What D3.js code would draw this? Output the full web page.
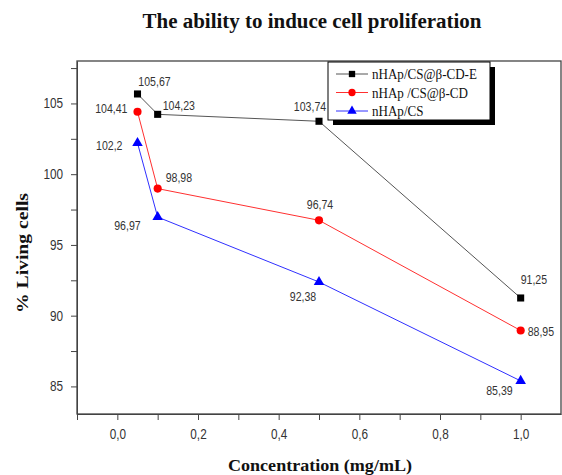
<!DOCTYPE html>
<html>
<head>
<meta charset="utf-8">
<script src="https://cdn.jsdelivr.net/npm/d3@7"></script>
<style>
  body { margin: 0; background: #fff; }
  .tick text { font-family: "Liberation Sans", Arial, sans-serif; font-size: 14px; fill: #333; }
  .tick line, .domain { stroke: #444; }
</style>
</head>
<body>
<div id="chart"></div>
<script>
// concentrations (mg/mL)
var concentrations = [0.05, 0.1, 0.5, 1.0];

// % living cells for each material
var seriesNames = ["nHAp/CS@\u03b2-CD-E", "nHAp /CS@\u03b2-CD", "nHAp/CS"];
var valuesCDE = [105.67, 104.23, 103.74, 91.25];
var valuesCD = [104.41, 98.98, 96.74, 88.95];
var valuesCS = [102.2, 96.97, 92.38, 85.39];

// axis ticks
var xTicks = [0, 0.2, 0.4, 0.6, 0.8, 1.0];
var xMinorTicks = [-0.1, 0.1, 0.3, 0.5, 0.7, 0.9];
var yTicks = [85, 90, 95, 100, 105];
var yMinorTicks = [87.5, 92.5, 97.5, 102.5, 107.5];

// where each value label sits relative to its marker [dx, dy, anchor]
var labelPosCDE = [[17, -8, "middle"], [5, -4, "start"], [-9, -10, "middle"], [0, -14, "start"]];
var labelPosCD = [[-10, 1, "end"], [8, -7, "start"], [1, -11, "middle"], [7, 5, "start"]];
var labelPosCS = [[-15, 7, "end"], [-17, 13, "end"], [-16, 19, "middle"], [-8, 14, "end"]];

var styles = [
  {line: "#555", fill: "#000", symbol: d3.symbolSquare, size: 50},
  {line: "#ff3030", fill: "#ff0000", symbol: d3.symbolCircle, size: 52},
  {line: "#3030ff", fill: "#0000ff", symbol: d3.symbolTriangle, size: 48}
];

var allValues = [valuesCDE, valuesCD, valuesCS];
var allLabelPos = [labelPosCDE, labelPosCD, labelPosCS];

// squeeze text horizontally (the original uses a narrow face)
function narrow(sel, k) {
  sel.each(function() {
    var w = this.getComputedTextLength();
    d3.select(this).attr("textLength", w * k).attr("lengthAdjust", "spacingAndGlyphs");
  });
}

// set the dimensions and margins of the graph
var margin = {top: 61, right: 1, bottom: 61, left: 77},
  width = 562 - margin.left - margin.right,
  height = 475 - margin.top - margin.bottom;

var svg = d3.select("#chart")
  .append("svg")
    .attr("width", 562)
    .attr("height", 475)
  .append("g")
    .attr("transform", "translate(" + margin.left + "," + margin.top + ")");

var x = d3.scaleLinear().domain([-0.1, 1.1]).range([0, width]);
var y = d3.scaleLinear().domain([83.05, 108]).range([height, 0]);

function comma(v) { return String(v).replace(".", ","); }

// minor ticks first (no labels)
svg.append("g")
  .attr("transform", "translate(0," + height + ")")
  .call(d3.axisBottom(x).tickValues(xMinorTicks).tickSize(6).tickFormat(""))
  .call(function(g) { g.select(".domain").remove(); });
svg.append("g")
  .call(d3.axisLeft(y).tickValues(yMinorTicks).tickSize(6).tickFormat(""))
  .call(function(g) { g.select(".domain").remove(); });

// main axes
var xAxis = svg.append("g")
  .attr("transform", "translate(0," + height + ")")
  .call(d3.axisBottom(x).tickValues(xTicks).tickSize(6).tickSizeOuter(0).tickPadding(9)
    .tickFormat(function(d) { return d3.format(".1f")(d).replace(".", ","); }));
var yAxis = svg.append("g")
  .call(d3.axisLeft(y).tickValues(yTicks).tickSize(6).tickSizeOuter(0).tickPadding(8)
    .tickFormat(function(d) { return d; }));
narrow(xAxis.selectAll("text"), 0.84);
narrow(yAxis.selectAll("text"), 0.84);

// frame
svg.append("rect")
  .attr("width", width)
  .attr("height", height)
  .attr("fill", "none")
  .attr("stroke", "#444")
  .attr("stroke-width", 1.3);

var line = d3.line()
  .x(function(d) { return x(d[0]); })
  .y(function(d) { return y(d[1]); });

allValues.forEach(function(vals, i) {
  var pts = concentrations.map(function(c, j) { return [c, vals[j]]; });
  svg.append("path")
    .datum(pts)
    .attr("d", line)
    .attr("fill", "none")
    .attr("stroke", styles[i].line)
    .attr("stroke-width", 1);

  svg.selectAll(".mk" + i)
    .data(pts)
    .enter()
    .append("path")
      .attr("class", "mk" + i)
      .attr("d", d3.symbol().type(styles[i].symbol).size(styles[i].size))
      .attr("transform", function(d) { return "translate(" + x(d[0]) + "," + y(d[1]) + ")"; })
      .attr("fill", styles[i].fill);

  var labels = svg.selectAll(".lb" + i)
    .data(pts)
    .enter()
    .append("text")
      .attr("class", "lb" + i)
      .attr("x", function(d, j) { return x(d[0]) + allLabelPos[i][j][0]; })
      .attr("y", function(d, j) { return y(d[1]) + allLabelPos[i][j][1]; })
      .attr("text-anchor", function(d, j) { return allLabelPos[i][j][2]; })
      .attr("style", "font-family: 'Liberation Sans', Arial, sans-serif; font-size: 12px; fill: #333")
      .text(function(d) { return comma(d[1]); });
  narrow(labels, 0.88);
});

// legend with drop shadow
var legend = svg.append("g").attr("transform", "translate(" + (328 - margin.left) + "," + (62 - margin.top) + ")");
legend.append("rect")
  .attr("x", 5).attr("y", 5)
  .attr("width", 162).attr("height", 58)
  .attr("fill", "#000");
legend.append("rect")
  .attr("width", 162).attr("height", 58)
  .attr("fill", "#fff")
  .attr("stroke", "#000")
  .attr("stroke-width", 1);

seriesNames.forEach(function(name, i) {
  var ly = 12 + i * 18.5;
  legend.append("line")
    .attr("x1", 8).attr("x2", 40)
    .attr("y1", ly).attr("y2", ly)
    .attr("stroke", styles[i].line)
    .attr("stroke-width", 1);
  legend.append("path")
    .attr("d", d3.symbol().type(styles[i].symbol).size(styles[i].size * 0.8))
    .attr("transform", "translate(24," + ly + ")")
    .attr("fill", styles[i].fill);
  var t = legend.append("text")
    .attr("x", 44)
    .attr("y", ly + 5)
    .attr("style", "font-family: 'Liberation Serif', 'Times New Roman', serif; font-size: 15px; fill: #111")
    .text(name);
  narrow(t, 0.87);
});

// title
d3.select("svg").append("text")
  .attr("x", 312)
  .attr("y", 28)
  .attr("text-anchor", "middle")
  .attr("textLength", 339)
  .attr("lengthAdjust", "spacingAndGlyphs")
  .attr("style", "font-family: 'Liberation Serif', 'Times New Roman', serif; font-size: 20px; font-weight: bold; fill: #111")
  .text("The ability to induce cell proliferation");

// axis labels
d3.select("svg").append("text")
  .attr("x", 320)
  .attr("y", 471)
  .attr("text-anchor", "middle")
  .attr("textLength", 184)
  .attr("lengthAdjust", "spacingAndGlyphs")
  .attr("style", "font-family: 'Liberation Serif', 'Times New Roman', serif; font-size: 17px; font-weight: bold; fill: #111")
  .text("Concentration (mg/mL)");

d3.select("svg").append("text")
  .attr("transform", "translate(28,253) rotate(-90)")
  .attr("text-anchor", "middle")
  .attr("textLength", 120)
  .attr("lengthAdjust", "spacingAndGlyphs")
  .attr("style", "font-family: 'Liberation Serif', 'Times New Roman', serif; font-size: 17px; font-weight: bold; fill: #111")
  .text("% Living cells");
</script>
</body>
</html>
